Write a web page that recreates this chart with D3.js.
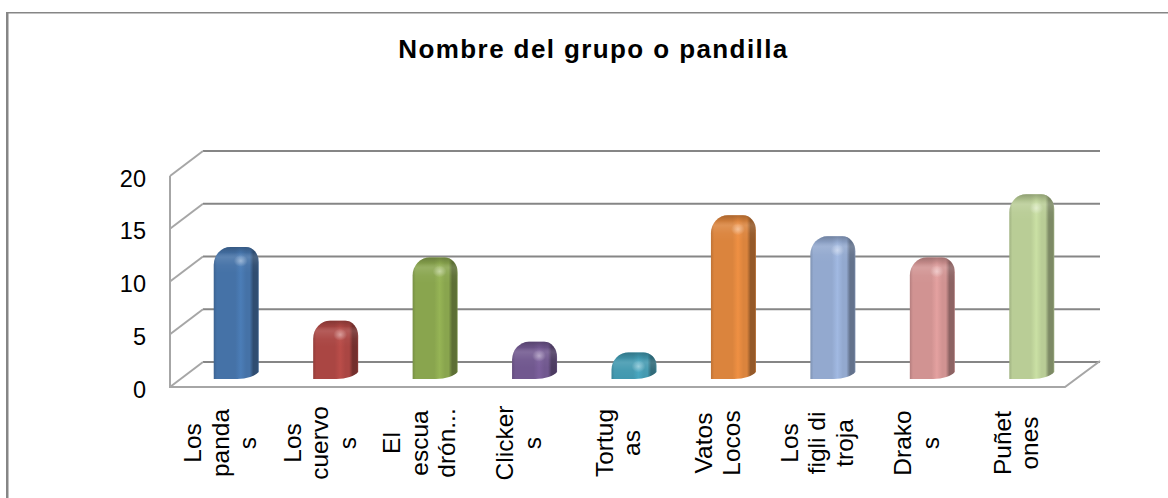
<!DOCTYPE html>
<html lang="en">
<head>
    <meta charset="UTF-8">
    <title>Nombre del grupo o pandilla</title>
    <script src="https://d3js.org/d3.v7.min.js"></script>
    <style>
        body { margin: 0; background: #fff; }
        svg { display: block; font-family: "Liberation Sans", Arial, sans-serif; }
        .grid { stroke: #868686; stroke-width: 2; }
        .wall { stroke: #a6a6a6; stroke-width: 2; fill: none; }
        .tick text { font-size: 23.5px; fill: #000; }
        .cat { font-size: 24.5px; fill: #000; }
        .title { font-size: 26px; font-weight: bold; letter-spacing: 1.4px; fill: #000; }
    </style>
</head>
<body>
<script>
    const width = 1168;
    const height = 498;

    const title = "Nombre del grupo o pandilla";
    const groups = ["Los pandas", "Los cuervos", "El escuadrón", "Clickers", "Tortugas",
                    "Vatos Locos", "Los figli di troja", "Drakos", "Puñetones"];
    // the labels wrap badly in the original, so the lines are kept as they appear
    const groupLines = [["Los", "panda", "s"], ["Los", "cuervo", "s"], ["El", "escua", "drón..."],
                        ["Clicker", "s"], ["Tortug", "as"], ["Vatos", "Locos"],
                        ["Los", "figli di", "troja"], ["Drako", "s"], ["Puñet", "ones"]];
    const counts = [12, 5, 11, 3, 2, 15, 13, 11, 17];
    const colors = ["#4572a7", "#aa4643", "#89a54e", "#71588f", "#4198af",
                    "#db843d", "#93a9cf", "#d19392", "#b9cd96"];
    const yTicks = [0, 5, 10, 15, 20];

    // offset of the back wall from the front plane
    const depthX = 33;
    const depthY = 25;

    const x = d3.scaleBand().domain(groups).range([170, 1065]);
    const y = d3.scaleLinear().domain([0, 20]).range([387, 176]);

    const svg = d3.select("body").append("svg")
        .attr("width", width).attr("height", height);
    const defs = svg.append("defs");

    // outer frame, only top and left are visible
    svg.append("rect").attr("x", 6).attr("y", 12).attr("width", 2.5).attr("height", height - 12).attr("fill", "#868686");
    svg.append("rect").attr("x", 6).attr("y", 12).attr("width", width - 6).attr("height", 1.5).attr("fill", "#868686");

    svg.append("text").attr("class", "title")
        .attr("x", 593.5).attr("y", 58)
        .attr("text-anchor", "middle")
        .text(title);

    // back wall gridlines
    svg.selectAll("line.grid").data(yTicks).enter().append("line")
        .attr("class", "grid")
        .attr("x1", 170 + depthX).attr("x2", 1065 + depthX + 2)
        .attr("y1", d => y(d) - depthY).attr("y2", d => y(d) - depthY);

    // side wall slants
    svg.selectAll("line.slant").data(yTicks).enter().append("line")
        .attr("class", "wall slant")
        .attr("x1", 170).attr("x2", 170 + depthX)
        .attr("y1", d => y(d)).attr("y2", d => y(d) - depthY);

    // front axis and floor
    svg.append("path").attr("class", "wall")
        .attr("d", `M170,${y(20)}V${y(0)}H1065L${1065 + depthX + 2},${y(0) - depthY - 1}`);

    const yAxis = d3.axisLeft(y).tickValues(yTicks).tickSize(0).tickPadding(24);
    svg.append("g").attr("transform", "translate(170,2.5)").call(yAxis)
        .call(g => g.select(".domain").remove());

    // one gradient set per bar
    colors.forEach(function(c, i) {
        const dark = d3.color(c).darker(1.1).formatHex();
        const edge = d3.color(c).darker(0.4).formatHex();
        const light = d3.color(c).brighter(0.25).formatHex();
        const side = defs.append("linearGradient").attr("id", "side" + i);
        [[0, edge], [0.07, c], [0.48, c], [0.6, light], [0.72, c], [0.8, c],
         [0.88, dark], [0.97, dark], [1, edge]].forEach(s => {
            side.append("stop").attr("offset", s[0]).attr("stop-color", s[1]);
        });
        const cap = defs.append("linearGradient").attr("id", "cap" + i)
            .attr("gradientUnits", "userSpaceOnUse")
            .attr("x1", 0).attr("x2", 0).attr("y1", 0).attr("y2", 26);
        [[0, dark, 0.7], [0.22, dark, 0.2], [0.4, "#fff", 0.12], [0.7, "#fff", 0.03], [1, "#fff", 0]].forEach(s => {
            cap.append("stop").attr("offset", s[0]).attr("stop-color", s[1]).attr("stop-opacity", s[2]);
        });
    });
    const glow = defs.append("radialGradient").attr("id", "glow");
    glow.append("stop").attr("offset", 0).attr("stop-color", "#fff").attr("stop-opacity", 0.4);
    glow.append("stop").attr("offset", 1).attr("stop-color", "#fff").attr("stop-opacity", 0);

    const barWidth = 45;
    const barBase = 379;
    const topShift = depthY / 2 + 1;  // bars stand in the middle of the floor

    function barPath(h) {
        const w = barWidth;
        const rl = 17;
        const rr = 13;
        const ryl = Math.min(18, h * 0.65);
        const ryr = Math.min(15, h * 0.5);
        return `M0,${ryl}A${rl},${ryl} 0 0 1 ${rl},0H${w - rr}A${rr},${ryr} 0 0 1 ${w},${ryr}V${h - 7}` +
               `A${w * 0.55},${11} 0 0 1 ${w * 0.52},${h}H0Z`;
    }

    const bars = svg.selectAll("g.bar").data(groups).enter().append("g")
        .attr("class", "bar")
        .attr("transform", (d, i) => {
            const cx = x(d) + x.bandwidth() / 2 + depthX / 2;
            return `translate(${cx - barWidth / 2},${y(counts[i]) - topShift})`;
        });
    const barHeight = i => barBase - (y(counts[i]) - topShift);

    bars.append("path")
        .attr("d", (d, i) => barPath(barHeight(i)))
        .attr("fill", (d, i) => `url(#side${i})`);
    bars.append("path")
        .attr("d", (d, i) => barPath(barHeight(i)))
        .attr("fill", (d, i) => `url(#cap${i})`);
    bars.append("ellipse")
        .attr("cx", barWidth * 0.6).attr("cy", 14)
        .attr("rx", 7).attr("ry", 6)
        .attr("fill", "url(#glow)");

    // category labels, rotated and centred on the front plane
    const lineStep = 27.5;
    const cats = svg.selectAll("g.cat").data(groups).enter().append("g")
        .attr("class", "cat");
    cats.each(function(d, i) {
        const lines = groupLines[i];
        const cx = x(d) + x.bandwidth() / 2;
        d3.select(this).selectAll("text").data(lines).enter().append("text")
            .attr("text-anchor", "middle")
            .attr("transform", (l, k) => `translate(${cx + (k - (lines.length - 1) / 2) * lineStep + 9},443) rotate(-90)`)
            .text(l => l);
    });
</script>
</body>
</html>
